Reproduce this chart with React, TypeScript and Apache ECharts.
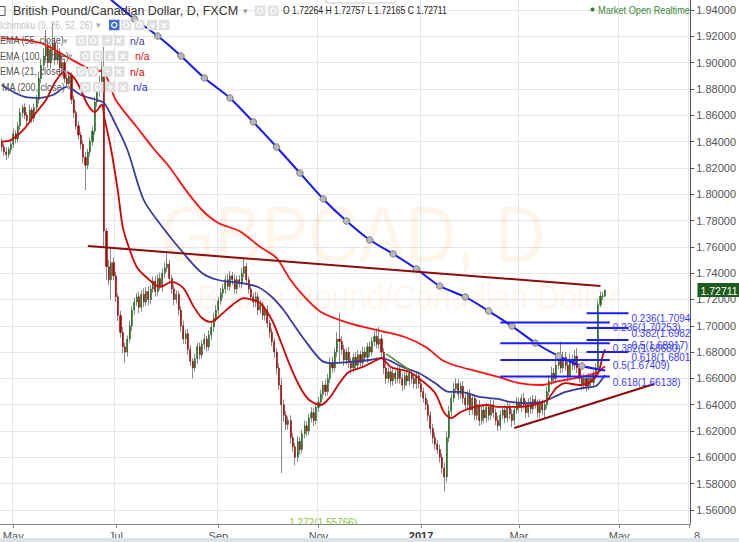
import React, { useEffect, useRef } from "react";
import * as echarts from "echarts";

// ---------- DATA ----------
const firstOpen = 1.84;
const closes = [
  1.836, 1.832, 1.830, 1.834, 1.838, 1.846, 1.842, 1.852, 1.862, 1.866,
  1.860, 1.856, 1.864, 1.858, 1.866, 1.872, 1.888, 1.898, 1.905, 1.912,
  1.900, 1.910, 1.915, 1.902, 1.908, 1.896, 1.900, 1.888, 1.884, 1.890,
  1.872, 1.862, 1.852, 1.845, 1.838, 1.828, 1.822, 1.832, 1.840, 1.848,
  1.870, 1.878, 1.885, 1.895, 1.772, 1.745, 1.735, 1.748, 1.738, 1.722,
  1.708, 1.695, 1.684, 1.680, 1.690, 1.700, 1.712, 1.718, 1.722, 1.714,
  1.724, 1.718, 1.726, 1.720, 1.728, 1.734, 1.726, 1.736, 1.730, 1.740,
  1.744, 1.747, 1.736, 1.728, 1.720, 1.724, 1.712, 1.700, 1.690, 1.694,
  1.682, 1.673, 1.668, 1.675, 1.684, 1.678, 1.686, 1.690, 1.684, 1.693,
  1.699, 1.706, 1.712, 1.719, 1.725, 1.728, 1.735, 1.730, 1.738, 1.735,
  1.728, 1.735, 1.732, 1.740, 1.745, 1.735, 1.728, 1.722, 1.718, 1.722,
  1.712, 1.716, 1.708, 1.712, 1.702, 1.695, 1.688, 1.680, 1.668, 1.655,
  1.640, 1.632, 1.625, 1.628, 1.615, 1.608, 1.600, 1.612, 1.606, 1.618,
  1.624, 1.620, 1.630, 1.634, 1.628, 1.638, 1.642, 1.648, 1.655, 1.650,
  1.660, 1.672, 1.668, 1.680, 1.690, 1.688, 1.682, 1.674, 1.680, 1.672,
  1.668, 1.676, 1.670, 1.678, 1.672, 1.680, 1.676, 1.684, 1.680, 1.688,
  1.692, 1.686, 1.690, 1.680, 1.668, 1.660, 1.665, 1.658, 1.664, 1.660,
  1.666, 1.660, 1.655, 1.662, 1.658, 1.664, 1.660, 1.656, 1.662, 1.656,
  1.650, 1.645, 1.640, 1.632, 1.622, 1.615, 1.610, 1.606, 1.600, 1.592,
  1.585, 1.615, 1.635, 1.645, 1.652, 1.656, 1.648, 1.654, 1.645, 1.640,
  1.648, 1.636, 1.645, 1.632, 1.640, 1.628, 1.636, 1.630, 1.638, 1.632,
  1.640, 1.634, 1.628, 1.624, 1.632, 1.636, 1.630, 1.638, 1.633, 1.628,
  1.636, 1.642, 1.638, 1.645, 1.640, 1.634, 1.642, 1.637, 1.644, 1.640,
  1.634, 1.641, 1.636, 1.640, 1.650, 1.658, 1.664, 1.660, 1.670, 1.674,
  1.668, 1.676, 1.670, 1.662, 1.674, 1.670, 1.677, 1.668, 1.660, 1.655,
  1.660, 1.654, 1.660, 1.657, 1.663, 1.668, 1.716, 1.7225, 1.72264, 1.72711,
];
// wick lengths in pips (0.0001)
const upperWick = [
  30, 25, 35, 20, 30, 40, 25, 30, 35, 20, 30, 25, 40, 20, 30, 35, 50, 40, 60, 130,
  50, 40, 150, 45, 60, 30, 50, 25, 40, 30, 25, 30, 20, 35, 25, 30, 40, 25, 30, 35,
  40, 35, 50, 60, 170, 20, 50, 120, 40, 30, 25, 35, 40, 30, 25, 40, 30, 35, 30, 40,
  30, 45, 35, 40, 30, 35, 40, 30, 45, 35, 40, 80, 30, 25, 35, 30, 25, 30, 40, 30,
  35, 30, 25, 40, 30, 35, 30, 40, 25, 35, 30, 40, 35, 30, 40, 35, 30, 45, 35, 30,
  40, 30, 35, 40, 70, 30, 25, 35, 30, 40, 30, 35, 25, 30, 35, 25, 30, 25, 30, 35,
  50, 40, 35, 30, 40, 35, 30, 40, 35, 30, 40, 35, 30, 40, 35, 30, 40, 35, 30, 40,
  35, 40, 45, 30, 50, 200, 40, 35, 30, 40, 35, 30, 40, 35, 30, 40, 35, 30, 40, 35,
  40, 60, 90, 35, 30, 40, 35, 30, 40, 35, 30, 40, 35, 30, 40, 35, 30, 40, 35, 30,
  35, 30, 40, 35, 30, 35, 40, 30, 35, 30, 40, 50, 40, 35, 45, 40, 35, 30, 40, 35,
  30, 40, 35, 30, 40, 35, 30, 40, 35, 30, 40, 35, 30, 35, 40, 30, 35, 40, 30, 35,
  30, 40, 35, 30, 40, 35, 30, 40, 35, 30, 40, 35, 30, 35, 40, 45, 50, 40, 60, 50,
  140, 45, 40, 35, 50, 40, 45, 60, 35, 30, 35, 30, 40, 35, 30, 35, 40, 35, 30, 4.6,
];
const lowerWick = [
  35, 30, 40, 25, 30, 30, 35, 25, 30, 40, 30, 35, 25, 40, 30, 25, 30, 35, 40, 50,
  40, 45, 50, 40, 35, 45, 40, 35, 30, 40, 35, 40, 30, 35, 40, 45, 190, 30, 35, 30,
  30, 35, 40, 30, 120, 100, 40, 150, 35, 40, 45, 40, 50, 80, 35, 30, 40, 35, 30, 45,
  35, 40, 30, 45, 35, 30, 40, 35, 30, 40, 35, 30, 40, 35, 45, 30, 40, 45, 35, 40,
  40, 35, 80, 30, 40, 35, 30, 40, 35, 30, 40, 35, 30, 35, 30, 40, 35, 30, 35, 40,
  35, 40, 30, 35, 30, 40, 35, 30, 40, 35, 40, 30, 35, 40, 35, 40, 35, 45, 50, 40,
  520, 50, 45, 40, 45, 40, 60, 35, 40, 30, 35, 40, 30, 35, 40, 30, 35, 30, 40, 35,
  30, 35, 40, 30, 35, 160, 40, 45, 35, 40, 45, 35, 40, 35, 40, 35, 30, 40, 35, 30,
  35, 30, 35, 40, 45, 40, 35, 40, 35, 40, 35, 40, 45, 35, 40, 35, 40, 35, 40, 35,
  40, 35, 40, 45, 40, 45, 40, 35, 40, 45, 110, 40, 35, 40, 35, 30, 40, 35, 40, 45,
  35, 40, 35, 40, 35, 40, 35, 40, 35, 40, 35, 40, 35, 40, 35, 30, 40, 35, 40, 50,
  35, 30, 40, 35, 30, 40, 35, 40, 35, 30, 40, 35, 40, 60, 30, 35, 30, 40, 35, 30,
  40, 35, 40, 45, 35, 40, 35, 40, 35, 40, 35, 40, 30, 35, 30, 35, 10, 20, 30, 9.9,
];

// indicator lines: [barIndex, price]
const ema21 = [
  [0, 1.840], [4, 1.8412], [10, 1.8503], [14, 1.8602], [19, 1.8716], [23, 1.8853], [27, 1.8929],
  [30, 1.8906], [33, 1.883], [37, 1.8678], [40, 1.8625], [43, 1.868], [44, 1.859], [47, 1.834],
  [50, 1.801], [52, 1.775], [55, 1.7576], [58, 1.7447], [62, 1.7371], [68, 1.7295], [73, 1.7333],
  [78, 1.7287], [82, 1.7158], [86, 1.7059], [90, 1.7029], [94, 1.7082], [99, 1.7158], [104, 1.7211],
  [108, 1.7196], [111, 1.7173], [116, 1.7044], [120, 1.6869], [124, 1.6687], [128, 1.6535],
  [132, 1.6436], [137, 1.6398], [141, 1.6459], [145, 1.6565], [149, 1.6649], [155, 1.6687],
  [161, 1.674], [163, 1.6755], [167, 1.6687], [175, 1.6649], [180, 1.6588], [186, 1.6489],
  [190, 1.6337], [193, 1.6299], [197, 1.6345], [203, 1.6383], [208, 1.6398], [213, 1.6383],
  [221, 1.6383], [228, 1.6398], [234, 1.6436], [238, 1.6527], [242, 1.6565], [248, 1.655],
  [252, 1.6565], [256, 1.6641], [258, 1.6778], [259, 1.682],
];
const ema55 = [
  [0, 1.883], [10, 1.8739], [16, 1.8731], [22, 1.8754], [28, 1.8815], [34, 1.8754], [41, 1.8716],
  [44, 1.8693], [48, 1.8564], [54, 1.8336], [61, 1.7956], [69, 1.7751], [78, 1.7553], [86, 1.7401],
  [93, 1.7348], [103, 1.7325], [110, 1.7295], [116, 1.7219], [121, 1.712], [124, 1.7044],
  [130, 1.6892], [137, 1.674], [141, 1.6717], [149, 1.6725], [158, 1.674], [163, 1.6755],
  [172, 1.6687], [179, 1.6641], [186, 1.6565], [192, 1.6497], [197, 1.6497], [205, 1.6459],
  [213, 1.6444], [218, 1.6421], [225, 1.6413], [232, 1.6421], [237, 1.6459], [242, 1.6497],
  [249, 1.6527], [255, 1.6542], [258, 1.6603], [259, 1.6625],
];
const ema100 = [
  [0, 1.9187], [17, 1.9149], [28, 1.9043], [37, 1.8959], [44, 1.8921], [49, 1.8716], [58, 1.8511],
  [65, 1.8351], [72, 1.8207], [79, 1.8032], [86, 1.788], [93, 1.7781], [102, 1.772], [111, 1.7599],
  [118, 1.7515], [124, 1.7348], [130, 1.7219], [137, 1.7105], [149, 1.7021], [163, 1.696],
  [173, 1.6915], [182, 1.6839], [189, 1.674], [194, 1.6702], [205, 1.6649], [213, 1.6611],
  [222, 1.6565], [232, 1.655], [239, 1.658], [249, 1.6611], [256, 1.6649], [258, 1.6679], [259, 1.669],
];
const ma200 = [
  [40, 1.958], [57, 1.9332], [67, 1.9202], [77, 1.905], [87, 1.8883], [98, 1.8731], [108, 1.8549],
  [118, 1.8359], [128, 1.8161], [138, 1.7964], [148, 1.7796], [158, 1.7652], [168, 1.7546],
  [178, 1.7432], [188, 1.7302], [199, 1.7219], [209, 1.7112], [219, 1.6998], [229, 1.6869],
  [239, 1.677], [249, 1.6694], [259, 1.666],
];

// drawn trend lines: [barIndex, price]
const upperTrend = [[37, 1.7606], [257, 1.7302]];
const lowerTrend = [[220, 1.6223], [280, 1.6558]];
const greenTrend = [[165, 1.6786], [175, 1.6664]];

// fibonacci levels
const fibRatios = ["0.236", "0.382", "0.5", "0.618", "0.236", "0.382", "0.5", "0.618"];
const fibPrices = [1.70945, 1.69823, 1.68917, 1.68011, 1.70253, 1.6868, 1.67409, 1.66138];
const fibStart = [251, 251, 251, 251, 214, 214, 214, 214];
const fibEnd = [269, 269, 269, 269, 261, 261, 261, 261];
const extRatio = "1.272";
const extPrice = 1.55766;
const extIndex = 138;

const yTicks = [1.56, 1.58, 1.6, 1.62, 1.64, 1.66, 1.68, 1.7, 1.72, 1.74, 1.76, 1.78, 1.8, 1.82, 1.84, 1.86, 1.88, 1.9, 1.92, 1.94];
const xTickLabels = ["May", "Jul", "Sep", "Nov", "2017", "Mar", "May", "8"];
const ohlcText = "O 1.72264 H 1.72757 L 1.72165 C 1.72711";

const CATEGORY_COUNT = 296;
const FONT = '"Liberation Sans", Arial, sans-serif';

function buildDates(): string[] {
  const out: string[] = [];
  const d = new Date(Date.UTC(2016, 3, 25));
  while (out.length < CATEGORY_COUNT) {
    const wd = d.getUTCDay();
    if (wd !== 0 && wd !== 6) out.push(d.toISOString().slice(0, 10));
    d.setUTCDate(d.getUTCDate() + 1);
  }
  return out;
}

export default function App() {
  const ref = useRef<HTMLDivElement>(null);
  useEffect(() => {
    if (!ref.current) return;
    const chart = echarts.init(ref.current, undefined, { renderer: "svg" });
    const dates = buildDates();
    const tickIdx: number[] = [];
    for (let k = 1; k < dates.length; k++) {
      const m = +dates[k].slice(5, 7);
      const pm = +dates[k - 1].slice(5, 7);
      if (m !== pm && m % 2 === 1) tickIdx.push(k);
    }
    tickIdx.push(dates.length - 1);
    const isTick = (i: number) => tickIdx.indexOf(i) >= 0;

    const ohlc = closes.map((c, i) => {
      const o = i === 0 ? firstOpen : closes[i - 1];
      const h = Math.max(o, c) + upperWick[i] / 10000;
      const l = Math.min(o, c) - lowerWick[i] / 10000;
      return [o, c, l, h];
    });
    const bodies = ohlc.map(([o, c]) => [o, c, Math.min(o, c), Math.max(o, c)]);

    const lineSeries = (data: number[][], color: string, z: number) => ({
      type: "line",
      data,
      smooth: 0.3,
      showSymbol: false,
      silent: true,
      lineStyle: { color, width: 1.8 },
      z,
    });
    const trend = (data: number[][], color: string, w: number) => ({
      type: "line",
      data,
      showSymbol: false,
      silent: true,
      lineStyle: { color, width: w },
      z: 9,
    });

    chart.setOption({
      animation: false,
      backgroundColor: "#ffffff",
      grid: { left: -5, right: 42, top: 0, bottom: 18, containLabel: false },
      xAxis: {
        type: "category",
        data: dates,
        boundaryGap: true,
        axisLine: { lineStyle: { color: "#888" } },
        axisTick: { show: true, interval: (i: number) => isTick(i), alignWithLabel: true, length: 4, lineStyle: { color: "#888" } },
        axisLabel: {
          interval: (i: number) => isTick(i),
          formatter: (_v: string, i: number) => {
            const t = tickIdx.indexOf(i);
            if (t < 0) return "";
            const s = xTickLabels[t];
            if (s === "2017") return "{b|2017}";
            if (t === xTickLabels.length - 1) return `{r|${s}}`;
            return s;
          },
          color: "#555",
          fontSize: 11,
          fontFamily: FONT,
          margin: 6,
          rich: {
            b: { fontWeight: "bold", color: "#333", fontSize: 11, fontFamily: FONT },
            r: { color: "#555", fontSize: 11, fontFamily: FONT, padding: [0, 0, 0, 16] },
          },
        },
        splitLine: { show: true, interval: (i: number) => isTick(i), lineStyle: { color: "#e6e6e6", width: 1 } },
      },
      yAxis: {
        type: "value",
        position: "right",
        min: 1.54936,
        max: 1.9476,
        scale: true,
        axisLine: { show: true, lineStyle: { color: "#555" } },
        axisTick: { show: true, customValues: yTicks, length: 4, lineStyle: { color: "#555" } },
        axisLabel: { customValues: yTicks, formatter: (v: number) => v.toFixed(5), color: "#555", fontSize: 11, fontFamily: FONT, margin: 6 },
        splitLine: { show: true, lineStyle: { color: "#e6e6e6", width: 1 } },
      },
      series: [
        {
          type: "candlestick",
          data: ohlc,
          barWidth: 0.2,
          silent: true,
          itemStyle: { color: "#8a8a8a", color0: "#8a8a8a", borderColor: "#8a8a8a", borderColor0: "#8a8a8a", borderWidth: 1 },
          z: 3,
        },
        {
          type: "candlestick",
          data: bodies,
          barWidth: 1.6,
          silent: true,
          itemStyle: { color: "#1b6a1b", color0: "#a00000", borderColor: "#1b6a1b", borderColor0: "#a00000", borderWidth: 0.5 },
          z: 4,
        },
        lineSeries(ema100, "#ff1010", 5),
        lineSeries(ema55, "#3a3a9c", 5),
        lineSeries(ema21, "#d00000", 5),
        {
          type: "line",
          data: ma200.map((p, k) => ({ value: p, symbol: k === 0 || k === ma200.length - 1 ? "none" : "circle" })),
          smooth: 0.2,
          showSymbol: true,
          showAllSymbol: true,
          symbolSize: 6.5,
          silent: true,
          lineStyle: { color: "#1616ff", width: 2 },
          itemStyle: { color: "#b8b8b8", borderColor: "#7c7c7c", borderWidth: 1 },
          z: 6,
        },
        trend(upperTrend, "#8e0c0c", 2),
        trend(lowerTrend, "#8e0c0c", 2),
        trend(greenTrend, "#4f8f30", 1.6),
        {
          type: "custom",
          clip: true,
          silent: true,
          z: 10,
          data: fibPrices.map((p, k) => [fibStart[k], fibEnd[k], p]),
          encode: { x: [0, 1], y: 2 },
          renderItem: (params: any, api: any) => {
            const k = params.dataIndex;
            const a = api.coord([fibStart[k], fibPrices[k]]);
            const b = api.coord([fibEnd[k], fibPrices[k]]);
            return {
              type: "group",
              children: [
                { type: "line", shape: { x1: a[0], y1: a[1], x2: b[0], y2: b[1] }, style: { stroke: "#1c1cff", lineWidth: 2 } },
                {
                  type: "text",
                  x: b[0] + 3,
                  y: a[1] + 0.5,
                  style: { text: `${fibRatios[k]}(${fibPrices[k].toFixed(5)})`, fill: "#3c3cff", fontSize: 10, fontFamily: FONT, verticalAlign: "top", align: "left" },
                },
              ],
            };
          },
        },
        {
          type: "custom",
          clip: true,
          silent: true,
          z: 10,
          data: [[extIndex, extPrice]],
          encode: { x: 0, y: 1 },
          renderItem: (_params: any, api: any) => {
            const a = api.coord([extIndex, extPrice]);
            return {
              type: "text",
              x: a[0],
              y: a[1] + 4,
              style: { text: `${extRatio}(${extPrice.toFixed(5)})`, fill: "#8dc63f", fontSize: 10, fontFamily: FONT, verticalAlign: "top", align: "center" },
            };
          },
        },
      ],
    });

    const lastClose = closes[closes.length - 1];
    const py = chart.convertToPixel({ yAxisIndex: 0 }, lastClose) as number;

    const els: any[] = [];
    // watermark
    els.push({ type: "text", x: 353, y: 234, scaleX: 0.875, z: 1, silent: true, style: { text: "GBPCAD, D", fill: "rgba(255,140,0,0.08)", fontSize: 80, fontFamily: FONT, align: "center", verticalAlign: "middle" } });
    els.push({ type: "text", x: 408, y: 296, scaleX: 0.875, z: 1, silent: true, style: { text: "British Pound/Canadian Dollar", fill: "rgba(255,140,0,0.08)", fontSize: 36, fontFamily: FONT, align: "center", verticalAlign: "middle" } });
    // top partial box
    els.push({ type: "rect", shape: { x: 326, y: -12, width: 69, height: 15 }, z: 100, style: { fill: "#fff", stroke: "#c8c8c8", lineWidth: 1 } });
    // header
    els.push({ type: "rect", shape: { x: -3, y: 6.5, width: 8, height: 9 }, z: 100, style: { fill: "none", stroke: "#555", lineWidth: 1 } });
    els.push({ type: "text", x: 13, y: 11, z: 100, style: { text: "British Pound/Canadian Dollar, D, FXCM", fill: "#333", fontSize: 12.5, fontFamily: FONT, verticalAlign: "middle" } });
    els.push({ type: "text", x: 243, y: 11, z: 100, style: { text: "▾", fill: "#999", fontSize: 9, fontFamily: FONT, verticalAlign: "middle" } });
    els.push({ type: "text", x: 283, y: 11, scaleX: 0.86, z: 100, style: { text: ohlcText, fill: "#222", fontSize: 10, fontFamily: FONT, verticalAlign: "middle" } });
    els.push({ type: "circle", shape: { cx: 592.5, cy: 9.5, r: 2 }, z: 100, style: { fill: "#2f7d32" } });
    els.push({ type: "text", x: 598, y: 10, scaleX: 0.92, z: 100, style: { text: "Market Open Realtime", fill: "#3a8a3a", fontSize: 10, fontFamily: FONT, verticalAlign: "middle" } });

    const legendRows = [
      { text: "Ichimoku (9, 26, 52, 26)", x: 0, y: 25, color: "#c4c4c4", arrow: 96, boxes: [109, 121, 134, 147, 159], na: "", naColor: "", naX: 0 },
      { text: "EMA (55, close)", x: 0, y: 40.5, color: "#555", arrow: 63, boxes: [76, 88, 102, 114], na: "n/a", naColor: "#44449e", naX: 130 },
      { text: "EMA (100, close)", x: 0, y: 56, color: "#555", arrow: 68, boxes: [80, 93, 105, 118], na: "n/a", naColor: "#e01010", naX: 135 },
      { text: "EMA (21, close)", x: 0, y: 71.5, color: "#555", arrow: 64, boxes: [76, 88, 102, 114], na: "n/a", naColor: "#d00000", naX: 130 },
      { text: "MA (200, close)", x: 2, y: 87, color: "#555", arrow: 66, boxes: [80, 93, 105, 118], na: "n/a", naColor: "#2a2aff", naX: 133 },
    ];
    const headerBoxes = [255, 268];
    headerBoxes.forEach((bx) => {
      els.push({ type: "rect", shape: { x: bx, y: 5.5, width: 10.5, height: 10.5 }, z: 100, style: { fill: "#e2e2e2" } });
      els.push({ type: "circle", shape: { cx: bx + 5.25, cy: 10.75, r: 2.6 }, z: 101, style: { fill: "none", stroke: "#fff", lineWidth: 1.2 } });
    });
    legendRows.forEach((r, ri) => {
      els.push({ type: "text", x: r.x, y: r.y, scaleX: ri === 0 ? 0.84 : 0.86, z: 100, style: { text: r.text, fill: r.color, fontSize: 10.5, fontFamily: FONT, verticalAlign: "middle" } });
      els.push({ type: "text", x: r.arrow, y: r.y, z: 100, style: { text: "▾", fill: "#aaa", fontSize: 9, fontFamily: FONT, verticalAlign: "middle" } });
      r.boxes.forEach((bx, bi) => {
        const blue = ri === 0 && bi === 0;
        els.push({ type: "rect", shape: { x: bx, y: r.y - 5.25, width: 10.5, height: 10.5 }, z: 100, style: { fill: blue ? "#3d6fd6" : "#e0e0e0" } });
        const last = r.boxes.length - 1;
        const glyph = bi === last ? "✕" : bi === last - 1 ? "+" : "";
        if (glyph) {
          els.push({ type: "text", x: bx + 5.25, y: r.y + 0.5, z: 101, style: { text: glyph, fill: "#fff", fontSize: 9, fontWeight: "bold", fontFamily: FONT, align: "center", verticalAlign: "middle" } });
        } else {
          els.push({ type: "circle", shape: { cx: bx + 5.25, cy: r.y, r: 2.6 }, z: 101, style: { fill: "none", stroke: "#fff", lineWidth: 1.2 } });
        }
      });
      if (r.na) {
        els.push({ type: "text", x: r.naX, y: r.y, z: 100, style: { text: r.na, fill: r.naColor, fontSize: 10.5, fontFamily: FONT, verticalAlign: "middle" } });
      }
    });
    // price tag on axis
    els.push({ type: "rect", shape: { x: 697.5, y: py - 7, width: 41.5, height: 14 }, z: 100, style: { fill: "#1d5c1d" } });
    els.push({ type: "text", x: 700.5, y: py + 0.5, z: 101, style: { text: lastClose.toFixed(5), fill: "#fff", fontSize: 10.5, fontFamily: FONT, verticalAlign: "middle" } });
    // bottom bar
    els.push({ type: "rect", shape: { x: 0, y: 538, width: 739, height: 4 }, z: 100, style: { fill: "#dde1e8" } });

    chart.setOption({ graphic: { elements: els } });

    return () => chart.dispose();
  }, []);
  return <div ref={ref} style={{ position: "fixed", left: 0, top: 0, width: 739, height: 542 }} />;
}
